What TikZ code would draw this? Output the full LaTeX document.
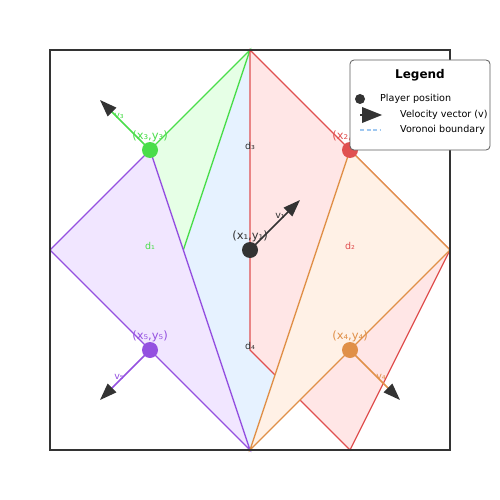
\documentclass[tikz,border=0pt]{standalone}
\usepackage{fontspec}
\setmainfont{DejaVu Sans}
\usetikzlibrary{arrows.meta}
\definecolor{cdark}{HTML}{333333}
\definecolor{cgreen}{HTML}{4ADD4A}
\definecolor{cred}{HTML}{E05050}
\definecolor{corange}{HTML}{E09048}
\definecolor{cpurple}{HTML}{9450E0}
\definecolor{fgreen}{HTML}{E6FFE6}
\definecolor{fblue}{HTML}{E6F2FF}
\definecolor{fred}{HTML}{FFE6E6}
\definecolor{forange}{HTML}{FFF1E6}
\definecolor{fpurple}{HTML}{F1E6FF}
\definecolor{cvor}{HTML}{A0C8F0}
\tikzset{
  cell/.style={line width=1.3pt, line join=miter},
  player/.style={circle, inner sep=0pt, minimum size=16pt},
  coordlabel/.style={font=\fontsize{11.5}{12}\selectfont, inner sep=0pt},
  smalllabel/.style={font=\fontsize{9.5}{10}\selectfont, inner sep=0pt},
  vel/.style={line width=1.5pt, -{Triangle[length=17pt,width=12pt,color=cdark]}},
  legtext/.style={font=\fontsize{9.6}{10}\selectfont, anchor=west, inner sep=0pt, text=black}
}
\begin{document}
\begin{tikzpicture}[x=1pt,y=-1pt]
\useasboundingbox (0,0) rectangle (500,500);
% cells
\fill[fblue] (250,50)--(250,350)--(300,400)--(250,450)--(183.33,250)--cycle;
\fill[fgreen] (250,50)--(150,150)--(183.33,250)--cycle;
\draw[cell,cgreen] (183.33,250)--(250,50)--(150,150);
\filldraw[cell,draw=cpurple,fill=fpurple] (150,150)--(50,250)--(250,450)--cycle;
\filldraw[cell,draw=cred,fill=fred] (250,50)--(350,150)--(450,250)--(350,450)--(250,350)--cycle;
\filldraw[cell,draw=corange,fill=forange] (350,150)--(450,250)--(250,450)--cycle;
% frame
\draw[line width=1.5pt,cdark] (50,50) rectangle (450,450);
% distance labels
\node[smalllabel,text=cgreen] (d1) at (150,246) {d₁};
\node[smalllabel,text=cred] (d2) at (350,246) {d₂};
\node[smalllabel,text=cdark] (d3) at (250,146) {d₃};
\node[smalllabel,text=cdark] (d4) at (250,346) {d₄};
% players
\node[player,fill=cdark] (p1) at (250,250) {};
\node[player,fill=cred] (p2) at (350,150) {};
\node[player,fill=cgreen] (p3) at (150,150) {};
\node[player,fill=corange] (p4) at (350,350) {};
\node[player,fill=cpurple] (p5) at (150,350) {};
% velocity
\coordinate (v1) at (300,200);
\coordinate (v3) at (100,100);
\coordinate (v4) at (400,400);
\coordinate (v5) at (100,400);
\draw[vel,cdark] (p1.center) -- (v1);
\draw[vel,cgreen] (p3.center) -- (v3);
\draw[vel,corange] (p4.center) -- (v4);
\draw[vel,cpurple] (p5.center) -- (v5);
\node[smalllabel,text=cdark] (lv1) at (280,216) {v₁};
\node[smalllabel,text=cgreen] (lv3) at (119,116) {v₃};
\node[smalllabel,text=corange] (lv4) at (381,377) {v₄};
\node[smalllabel,text=cpurple] (lv5) at (119,377) {v₅};
% coordinate labels
\node[coordlabel,text=cdark] (l1) at (250,236) {(x₁,y₁)};
\node[coordlabel,text=cred] (l2) at (350,136) {(x₂,y₂)};
\node[coordlabel,text=cgreen] (l3) at (150,136) {(x₃,y₃)};
\node[coordlabel,text=corange] (l4) at (350,336) {(x₄,y₄)};
\node[coordlabel,text=cpurple] (l5) at (150,336) {(x₅,y₅)};
% legend
\draw[fill=white,draw=cdark!80,line width=0.8pt,rounded corners=4pt] (350,60) rectangle (490,150);
\node[font=\bfseries\fontsize{12}{13}\selectfont,inner sep=0pt] (legt) at (420,75) {Legend};
\node[circle,fill=cdark,inner sep=0pt,minimum size=10pt] (legdot) at (360,99) {};
\node[legtext] (leg1) at (380,99) {Player position};
\coordinate (la0) at (360,115);
\coordinate (la1) at (382,115);
\draw[cdark,line width=1.5pt] (la0) -- (368,115);
\fill[cdark] (362,107)--(la1)--(362,123)--cycle;
\node[legtext] (leg2) at (400,115) {Velocity vector (v)};
\coordinate (lb0) at (360,130);
\coordinate (lb1) at (380,130);
\draw[cvor,line width=1.3pt,dash pattern=on 4pt off 2.5pt] (lb0) -- (lb1);
\node[legtext] (leg3) at (400,130) {Voronoi boundary};
\end{tikzpicture}
\end{document}
